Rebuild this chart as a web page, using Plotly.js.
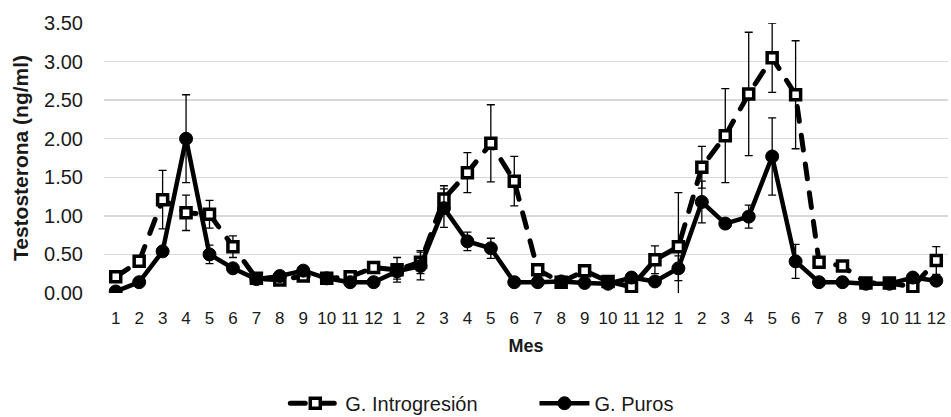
<!DOCTYPE html>
<html>
<head>
<meta charset="utf-8">
<script src="https://cdn.plot.ly/plotly-3.0.1.min.js"></script>
<style>
  html, body { margin: 0; padding: 0; background: #ffffff; }
  #chart { width: 951px; height: 417px; }
</style>
</head>
<body>
<div id="chart"></div>
<script>
// Tick labels (month of each sampling, three consecutive years)
const monthLabels = ['1','2','3','4','5','6','7','8','9','10','11','12',
                     '1','2','3','4','5','6','7','8','9','10','11','12',
                     '1','2','3','4','5','6','7','8','9','10','11','12'];

// G. Introgresión — mean testosterone (ng/ml) and error
const introValues = [0.21, 0.41, 1.21, 1.04, 1.02, 0.60, 0.19, 0.17, 0.22, 0.19, 0.21, 0.33,
                     0.30, 0.40, 1.22, 1.56, 1.94, 1.45, 0.30, 0.14, 0.29, 0.15, 0.08, 0.43,
                     0.60, 1.63, 2.04, 2.58, 3.05, 2.57, 0.40, 0.35, 0.13, 0.13, 0.08, 0.42];
const introErrors = [0.04, 0.06, 0.38, 0.23, 0.18, 0.14, 0.03, 0.03, 0.04, 0.03, 0.03, 0.05,
                     0.16, 0.15, 0.17, 0.26, 0.50, 0.32, 0.08, 0.03, 0.05, 0.03, 0.03, 0.18,
                     0.70, 0.27, 0.61, 0.80, 0.45, 0.70, 0.07, 0.04, 0.03, 0.03, 0.03, 0.18];

// G. Puros — mean testosterone (ng/ml) and error
const purosValues = [0.02, 0.14, 0.54, 2.00, 0.50, 0.32, 0.18, 0.22, 0.29, 0.19, 0.14, 0.14,
                     0.28, 0.35, 1.10, 0.67, 0.58, 0.14, 0.14, 0.15, 0.13, 0.12, 0.20, 0.15,
                     0.32, 1.18, 0.90, 0.99, 1.77, 0.41, 0.14, 0.14, 0.12, 0.12, 0.20, 0.16];
const purosErrors = [0.02, 0.03, 0.05, 0.57, 0.12, 0.04, 0.03, 0.03, 0.04, 0.03, 0.02, 0.02,
                     0.10, 0.18, 0.25, 0.12, 0.13, 0.02, 0.02, 0.02, 0.02, 0.02, 0.03, 0.03,
                     0.16, 0.27, 0.05, 0.15, 0.50, 0.22, 0.03, 0.02, 0.02, 0.02, 0.03, 0.03];

const seriesNames = ['G. Introgresión', 'G. Puros'];
const yTitle = 'Testosterona (ng/ml)';
const xTitle = 'Mes';

const positions = monthLabels.map((_, i) => i + 1);
const FONT = '"Liberation Sans", Arial, sans-serif';

const traces = [
  {
    x: positions, y: introValues, name: seriesNames[0], legend: 'legend',
    type: 'scatter', mode: 'lines+markers',
    line: { color: '#000000', width: 5, dash: '15px,14px' },
    marker: { symbol: 'square', size: 10, color: '#ffffff', line: { color: '#000000', width: 3.5 } },
    error_y: { type: 'data', array: introErrors, visible: true, color: '#000000', thickness: 1.3, width: 4 }
  },
  {
    x: positions, y: purosValues, name: seriesNames[1], legend: 'legend2',
    type: 'scatter', mode: 'lines+markers',
    line: { color: '#000000', width: 4.5 },
    marker: { symbol: 'circle', size: 13, color: '#000000', line: { color: '#000000', width: 1 } },
    error_y: { type: 'data', array: purosErrors, visible: true, color: '#000000', thickness: 1.3, width: 4 }
  }
];

const legendBase = {
  orientation: 'h', xref: 'container', xanchor: 'left',
  yref: 'container', y: 0.033, yanchor: 'middle',
  font: { family: FONT, size: 20, color: '#1a1a1a' },
  itemwidth: 50, bgcolor: 'rgba(0,0,0,0)'
};

const layout = {
  width: 951, height: 417,
  margin: { l: 104, r: 3, t: 23, b: 124, autoexpand: false },
  paper_bgcolor: '#ffffff', plot_bgcolor: '#ffffff',
  font: { family: FONT, color: '#1a1a1a' },
  showlegend: true,
  legend: Object.assign({}, legendBase, { x: 0.300 }),
  legend2: Object.assign({}, legendBase, { x: 0.562 }),
  xaxis: {
    range: [0.5, 36.5],
    tickmode: 'array', tickvals: positions, ticktext: monthLabels,
    showgrid: false, zeroline: false, showline: false, ticks: '',
    tickfont: { family: FONT, size: 17, color: '#1a1a1a' },
    ticklabelstandoff: 13,
    title: { text: xTitle, font: { family: FONT, size: 18, color: '#1a1a1a', weight: 'bold' }, standoff: 12 }
  },
  yaxis: {
    range: [0, 3.5], dtick: 0.5, tick0: 0, tickformat: '.2f',
    showgrid: true, gridcolor: '#d9d9d9', gridwidth: 1.3,
    zeroline: false, showline: false, ticks: '',
    tickfont: { family: FONT, size: 20, color: '#1a1a1a' },
    ticklabelstandoff: 20,
    title: { text: yTitle, font: { family: FONT, size: 21, color: '#1a1a1a', weight: 'bold' }, standoff: 9 }
  }
};

Plotly.newPlot('chart', traces, layout, { displayModeBar: false, staticPlot: true }).then(() => {
  document.querySelectorAll('.scatterlayer .js-line, .legend .js-line').forEach(p => {
    p.style.strokeLinecap = 'round';
    p.style.strokeLinejoin = 'round';
  });
});
</script>
</body>
</html>
